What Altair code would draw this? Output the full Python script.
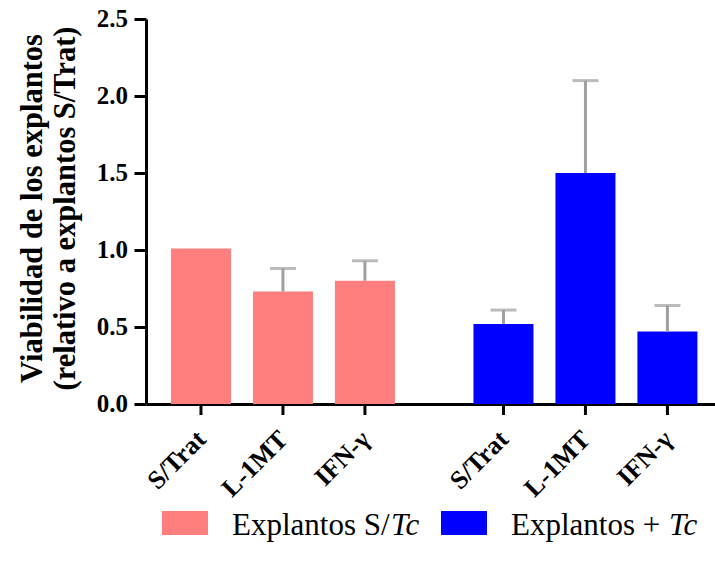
import altair as alt
import pandas as pd

# Explant viability relative to untreated (S/Trat) explants, mean with upper error
groups = ["Explantos S/Tc"] * 3 + ["Explantos + Tc"] * 3
treatments = ["S/Trat", "L-1MT", "IFN-γ", "S/Trat", "L-1MT", "IFN-γ"]
means = [1.01, 0.73, 0.80, 0.52, 1.50, 0.47]
errors = [0.00, 0.15, 0.13, 0.09, 0.60, 0.17]

group_order = ["Explantos S/Tc", "Explantos + Tc"]
treatment_order = ["S/Trat", "L-1MT", "IFN-γ"]
bar_colors = ["#FF7F7F", "#0000FF"]

y_ticks = [0.0, 0.5, 1.0, 1.5, 2.0, 2.5]
y_title = ["Viabilidad de los explantos", "(relativo a explantos S/Trat)"]

df = pd.DataFrame({
    "grupo": groups,
    "tratamiento": treatments,
    "media": means,
    "error": errors,
})
df["superior"] = df["media"] + df["error"]

W, H = 569, 385
SERIF = "Liberation Serif"
BOLD = dict(font=SERIF, fontWeight="bold", color="black")

x_enc = alt.X(
    "grupo:N",
    sort=group_order,
    scale=alt.Scale(paddingInner=0.187, paddingOuter=0.034, align=0.68),
    axis=alt.Axis(labels=False, ticks=False, title=None, domainWidth=3,
                  domainColor="black"),
)
xo_enc = alt.XOffset(
    "tratamiento:N",
    sort=treatment_order,
    scale=alt.Scale(paddingInner=0.268, paddingOuter=0.134),
)
y_scale = alt.Scale(domain=[0, 2.5], nice=False)

base = alt.Chart(df)

bars = base.mark_bar().encode(
    x=x_enc,
    xOffset=xo_enc,
    y=alt.Y(
        "media:Q",
        scale=y_scale,
        axis=alt.Axis(
            values=y_ticks,
            labels=False,
            title=None,
            grid=False,
            tickSize=12,
            tickWidth=3,
            tickColor="black",
            domainWidth=3,
            domainColor="black",
        ),
    ),
    color=alt.Color("grupo:N", sort=group_order,
                    scale=alt.Scale(domain=group_order, range=bar_colors),
                    legend=None),
)

with_err = base.transform_filter("datum.error > 0")

err_line = with_err.mark_rule(color="#A0A0A0", strokeWidth=3).encode(
    x=x_enc, xOffset=xo_enc,
    y=alt.Y("media:Q", scale=y_scale),
    y2="superior:Q",
)
err_cap = with_err.mark_tick(color="#A0A0A0", thickness=3, size=26).encode(
    x=x_enc, xOffset=xo_enc,
    y=alt.Y("superior:Q", scale=y_scale),
)

# Y tick labels placed through the same y scale
tick_df = pd.DataFrame({"v": y_ticks, "txt": [f"{v:.1f}" for v in y_ticks]})
y_labels = alt.Chart(tick_df).mark_text(
    align="right", baseline="middle", fontSize=25, **BOLD,
).encode(
    x=alt.value(-18),
    y=alt.Y("v:Q", scale=y_scale),
    text="txt:N",
)

# Two-line rotated y title
title_df = pd.DataFrame({"line": y_title, "pos": [0, 1]})
title_layers = [
    alt.Chart(title_df).transform_filter(f"datum.pos == {i}").mark_text(
        angle=270, align="center", baseline="alphabetic", fontSize=30.5, **BOLD,
    ).encode(
        x=alt.value(xv), y=alt.value(H / 2 - 3), text="line:N",
    )
    for i, xv in enumerate([-104, -71])
]

# Category ticks and rotated labels under each bar
x_ticks = base.mark_rule(color="black", strokeWidth=3).encode(
    x=x_enc, xOffset=xo_enc,
    y=alt.value(H), y2=alt.value(H + 11),
)
x_labels = base.mark_text(
    angle=315, align="right", baseline="middle", fontSize=26, dx=1, **BOLD,
).encode(
    x=x_enc, xOffset=xo_enc,
    y=alt.value(H + 32),
    text="tratamiento:N",
)


def legend_entry(x0, color, label):
    """Colour swatch and plain label for one legend item."""
    item = pd.DataFrame({"label": [label]})
    c = alt.Chart(item)
    swatch = c.mark_rect(color=color).encode(
        x=alt.value(x0), x2=alt.value(x0 + 46),
        y=alt.value(H + 107), y2=alt.value(H + 131),
    )
    plain = c.mark_text(align="left", baseline="alphabetic", font=SERIF,
                        fontSize=31, color="black").encode(
        x=alt.value(x0 + 70), y=alt.value(H + 131), text="label:N",
    )
    return swatch + plain


def legend_suffix(x0, italic_part):
    """Italic organism abbreviation that ends a legend label."""
    item = pd.DataFrame({"suffix": [italic_part]})
    return alt.Chart(item).mark_text(
        align="left", baseline="alphabetic", font=SERIF, fontSize=31,
        fontStyle="italic", color="black",
    ).encode(x=alt.value(x0), y=alt.value(H + 131), text="suffix:N")


legend = (
    legend_entry(16, bar_colors[0], "Explantos S/")
    + legend_suffix(245, "Tc")
    + legend_entry(295, bar_colors[1], "Explantos +")
    + legend_suffix(523, "Tc")
)

chart = (
    alt.layer(bars, err_line, err_cap, x_ticks, x_labels, y_labels,
              *title_layers, legend)
    .properties(
        width=W,
        height=H,
        autosize=alt.AutoSizeParams(type="none"),
        padding={"left": 146, "top": 19, "right": 0, "bottom": 157},
        background="white",
    )
    .configure_view(stroke=None)
)

chart.save("out.html", embed_options={"renderer": "svg", "actions": False})
